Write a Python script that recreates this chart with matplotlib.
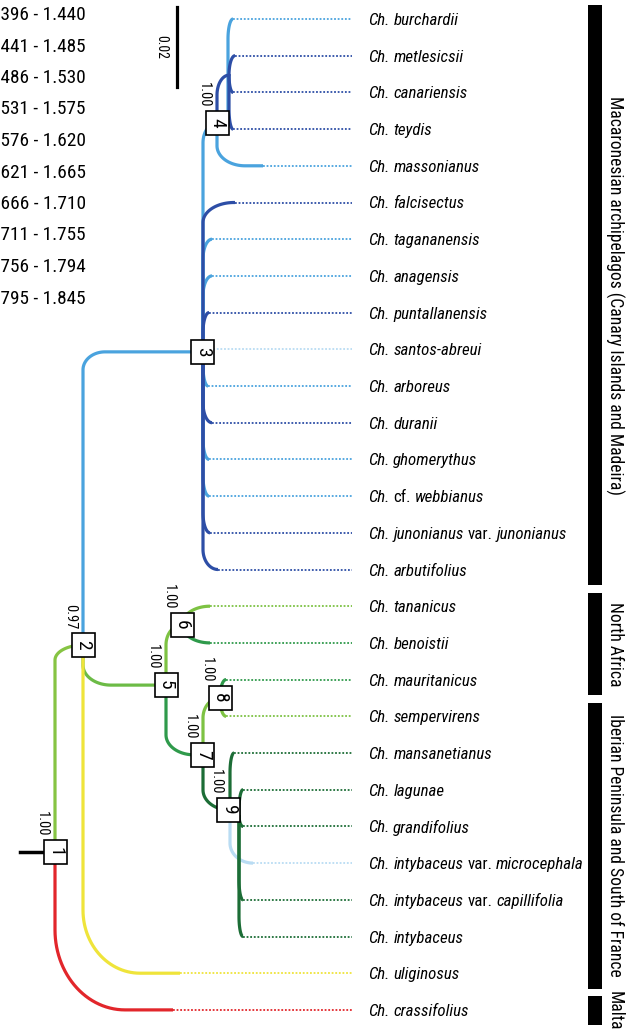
import numpy as np
import matplotlib
matplotlib.use('Agg')
import matplotlib.pyplot as plt
from matplotlib import font_manager
from matplotlib.patches import Rectangle

names = {f.name for f in font_manager.fontManager.ttflist}
FONT = 'Liberation Sans'
for cand in ['Liberation Sans Narrow', 'Roboto Condensed', 'Open Sans Condensed',
             'Noto Sans Condensed', 'DejaVu Sans Condensed']:
    if cand in names:
        FONT = cand
        break
plt.rcParams['font.family'] = [FONT, 'DejaVu Sans']

# ---- data -------------------------------------------------------------
taxa = ['Ch. burchardii', 'Ch. metlesicsii', 'Ch. canariensis', 'Ch. teydis',
        'Ch. massonianus', 'Ch. falcisectus', 'Ch. tagananensis', 'Ch. anagensis',
        'Ch. puntallanensis', 'Ch. santos-abreui', 'Ch. arboreus', 'Ch. duranii',
        'Ch. ghomerythus', 'Ch. cf. webbianus', 'Ch. junonianus var. junonianus',
        'Ch. arbutifolius', 'Ch. tananicus', 'Ch. benoistii', 'Ch. mauritanicus',
        'Ch. sempervirens', 'Ch. mansanetianus', 'Ch. lagunae', 'Ch. grandifolius',
        'Ch. intybaceus var. microcephala', 'Ch. intybaceus var. capillifolia',
        'Ch. intybaceus', 'Ch. uliginosus', 'Ch. crassifolius']
# tip depth (substitutions/site from node 1)
tip_depth = [0.0445, 0.0450, 0.0445, 0.0445, 0.0520, 0.0450, 0.03925, 0.03925,
             0.0385, 0.03775, 0.03825, 0.03925, 0.0385, 0.0385, 0.03875, 0.04075,
             0.03875, 0.03875, 0.04275, 0.04275, 0.04475, 0.0470, 0.0470, 0.0495,
             0.0470, 0.0470, 0.03125, 0.0295]
tip_parent = ['4b', 'D', 'D', 'D', '4', '3', '3', '3', '3', '3', '3', '3', '3', '3',
              '3', '3', '6', '6', '8', '8', '9a', '9b', '9b', '9a', '9b', '9b', '2', '1']
tip_colour = ['LB', 'DB', 'DB', 'DB', 'LB', 'DB', 'LB', 'LB', 'DB', 'PB', 'LB', 'DB',
              'LB', 'LB', 'DB', 'DB', 'LG', 'G', 'G', 'LG', 'DG', 'DG', 'DG', 'PB',
              'DG', 'DG', 'Y', 'R']

# internal nodes: name, parent, depth, y (tip units), branch colour
node_name = ['1', '2', '3', '4', '4b', 'D', '5', '6', '7', '8', '9', '9a', '9b']
node_parent = [None, '1', '2', '3', '4', '4', '2', '5', '5', '7', '7', '9', '9']
node_depth = [0.0, 0.0070, 0.0370, 0.0405, 0.04325, 0.0435, 0.02775, 0.03175,
              0.0370, 0.04125, 0.0435, 0.04375, 0.0460]
node_y = [22.70, 17.06, 9.07, 2.83, 2.83, 1.53, 18.15, 16.51, 20.05, 18.50, 21.55,
          21.55, 21.69]
node_colour = [None, 'LG2', 'LB', 'LB', 'LB', 'DB', 'MG', 'LG', 'G', 'LG', 'DG', 'DG', 'DG']

boxed = ['1', '2', '3', '4', '5', '6', '7', '8', '9']
support = {'1': '1.00', '2': '0.97', '4': '1.00', '5': '1.00', '6': '1.00',
           '7': '1.00', '8': '1.00', '9': '1.00'}

regions = ['Macaronesian archipelagos (Canary Islands and Madeira)', 'North Africa',
           'Iberian Peninsula and South of France', 'Malta']
region_first = [0, 16, 19, 27]
region_last = [15, 18, 26, 27]

legend_ranges = ['1.396 - 1.440', '1.441 - 1.485', '1.486 - 1.530', '1.531 - 1.575',
                 '1.576 - 1.620', '1.621 - 1.665', '1.666 - 1.710', '1.711 - 1.755',
                 '1.756 - 1.794', '1.795 - 1.845']

colours = {'LB': '#4aa3de', 'DB': '#2d4ea6', 'PB': '#b9dcf3', 'LG': '#7dc243',
           'LG2': '#86c443', 'MG': '#6cbb46', 'G': '#2f9a4b', 'DG': '#1c6d36',
           'Y': '#efe43a', 'R': '#e2262b'}
zord = {'PB': 1, 'LB': 2, 'DB': 3, 'LG': 2, 'LG2': 2, 'MG': 2, 'G': 3, 'DG': 3,
        'Y': 2, 'R': 2}

# ---- figure ------------------------------------------------------------
PXX = 4000.0    # px per substitution
PXY = 36.7      # px per tip
X0, Y0 = 55, 19  # pixel position of node 1 depth / first tip


def X(px):
    return (px - X0) / PXX


def Y(px):
    return (px - Y0) / PXY


fig = plt.figure(figsize=(6.32, 10.33), dpi=100)
ax = fig.add_axes([0, 0, 1, 1])
ax.set_xlim(X(0), X(632))
ax.set_ylim(Y(1033), Y(0))
ax.axis('off')
fig.canvas.draw()
rend = fig.canvas.get_renderer()
inv = ax.transData.inverted()


def text_w(s, size, **kw):
    t = ax.text(0, 0, s, fontsize=size, **kw)
    w = t.get_window_extent(renderer=rend).width
    t.remove()
    return w


def fit_size(s, target_px, base=12.0, **kw):
    return base * target_px / text_w(s, base, **kw)


pos = {n: (d, y) for n, d, y in zip(node_name, node_depth, node_y)}
corner = {'t27': (70, 80), 't26': (57, 63), 'n3': (22, 18), 't5': (31, 20),
          'n2': (28, 15)}


def elbow(p, c, key, col):
    px, py = p
    cx, cy = c
    rx_px, ry_px = corner.get(key, (28, 20))
    rx = min(rx_px, (cx - px) * PXX) / PXX
    ry = min(ry_px, abs(cy - py) * PXY) / PXY
    s = np.sign(cy - py)
    if s == 0 or ry == 0:
        xs, ys = [px, cx], [py, cy]
    else:
        t = np.linspace(0, np.pi / 2, 30)
        x0, y0 = px + rx, cy - s * ry
        xs = np.concatenate([[px], x0 - rx * np.cos(t), [cx]])
        ys = np.concatenate([[py], y0 + s * ry * np.sin(t), [cy]])
    ax.plot(xs, ys, color=colours[col], lw=2.3, solid_capstyle='butt',
            zorder=zord[col])


for n, par, col in zip(node_name, node_parent, node_colour):
    if par is not None:
        elbow(pos[par], pos[n], 'n' + n, col)

DOT_END = X(352)
LABEL_X = X(368)
for i, (d, par, col) in enumerate(zip(tip_depth, tip_parent, tip_colour)):
    elbow(pos[par], (d, i), 't%d' % i, col)
    ax.plot([d, DOT_END], [i, i], color=colours[col], lw=1.3,
            linestyle=(0, (1, 1)), zorder=1)

# root stem
ax.plot([X(20), 0], [pos['1'][1]] * 2, color='black', lw=2.5, zorder=2)

# node boxes and supports
bw, bh = 23 / PXX, 24 / PXY
num_fs = fit_size('1.00', 25)
for n in boxed:
    x, y = pos[n]
    ax.add_patch(Rectangle((x - bw / 2, y - bh / 2), bw, bh, facecolor='white',
                           edgecolor='black', lw=1.2, zorder=6))
    ax.text(x, y, n, rotation=-90, ha='center', va='center', fontsize=14,
            zorder=7)
    if n in support:
        ax.text(x - 13 / PXX, y - 28 / PXY, support[n], rotation=-90, ha='center',
                va='center', fontsize=num_fs, zorder=7)

# tip labels (italic, with var. / cf. upright)
lab_fs = fit_size('Ch. intybaceus var. microcephala', 214, style='italic')
space = text_w('x x', lab_fs) - text_w('xx', lab_fs)
for i, lab in enumerate(taxa):
    x = LABEL_X
    for w in lab.split(' '):
        st = 'normal' if w in ('var.', 'cf.') else 'italic'
        t = ax.text(x, i, w, fontsize=lab_fs, style=st, ha='left',
                    va='center_baseline')
        bb = t.get_window_extent(renderer=rend)
        x = inv.transform((bb.x1 + space, 0))[0]

# region bars
reg_fs = fit_size(regions[2], 262)
for name, a, b in zip(regions, region_first, region_last):
    lo, hi = a - 0.37, b + 0.42
    ax.bar(X(595), hi - lo, bottom=lo, width=14 / PXX, color='black', zorder=2)
    ax.text(X(615), (lo + hi) / 2, name, rotation=-90, ha='center', va='center',
            fontsize=reg_fs)

# scale bar
sx, sy = X(177), Y(7)
ax.plot([sx, sx], [sy, sy + 0.02 * PXX / PXY], color='black', lw=2.3)
ax.text(X(161), sy + 0.01 * PXX / PXY, '0.02', rotation=-90, ha='center',
        va='center', fontsize=num_fs * 0.95)

# rate legend (partly outside the figure on the left)
leg_fs = fit_size('396 - 1.440', 85)
for k, s in enumerate(legend_ranges):
    ax.text(X(86), Y(15) + k * 31.5 / PXY, s, ha='right', va='center',
            fontsize=leg_fs)

fig.savefig('out.png', dpi=100)
